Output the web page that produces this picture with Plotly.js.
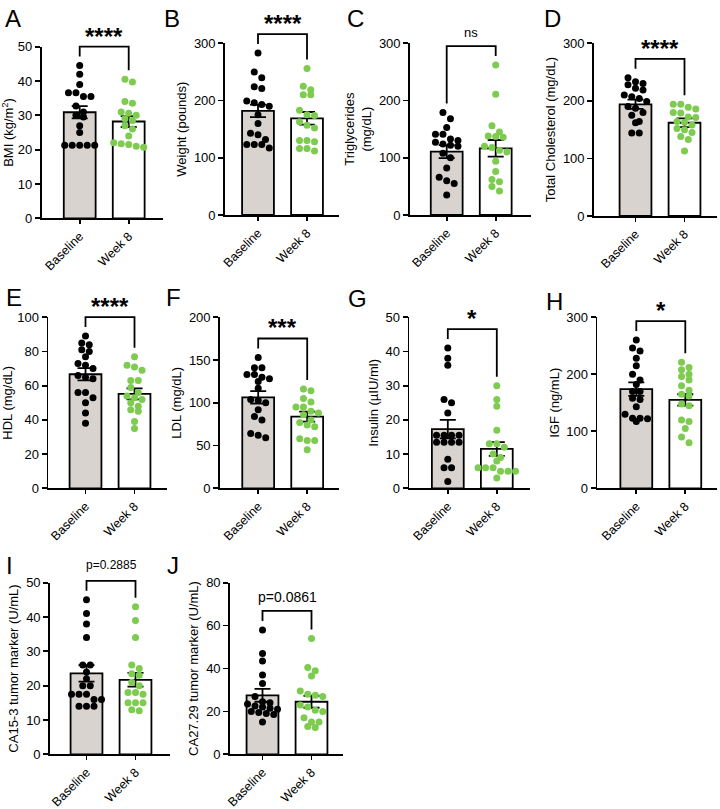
<!DOCTYPE html>
<html><head><meta charset="utf-8">
<script src="https://cdn.plot.ly/plotly-3.0.1.min.js"></script>
<style>html,body{margin:0;padding:0;background:#fff}#chart{width:720px;height:809px}</style>
</head><body><div id="chart"></div>
<script>
// ---------------- DATA ----------------
const categories = ['Baseline', 'Week 8'];
const panelLetters = ['A','B','C','D','E','F','G','H','I','J'];
const yTitles = ['BMI (kg/m<sup>2</sup>)', 'Weight (pounds)', 'Triglycerides<br>(mg/dL)', 'Total Cholesterol (mg/dL)',
  'HDL (mg/dL)', 'LDL (mg/dL)', 'Insulin (µIU/ml)', 'IGF (ng/mL)',
  'CA15-3 tumor marker (U/mL)', 'CA27.29 tumor marker (U/mL)'];
const sigLabels = ['****','****','ns','****','****','***','*','*','p=0.2885','p=0.0861'];
const yMaxima = [50, 300, 300, 300, 100, 200, 50, 300, 50, 80];
const yTickSteps = [10, 100, 100, 100, 20, 50, 10, 100, 10, 20];

const baselineMeans = [30.9, 182, 110.7, 194, 66.7, 106.4, 17.3, 174, 23.6, 27.5];
const baselineSems  = [1.8, 11, 11.5, 8, 3.6, 7.2, 2.7, 11.7, 2.4, 3.0];
const week8Means    = [28.2, 169, 116.5, 162, 55.2, 83.8, 11.5, 155, 21.7, 24.5];
const week8Sems     = [1.6, 11, 14.5, 7.5, 3.2, 5.8, 2.0, 10, 2.0, 2.8];

const bmiBaseline = [44.5, 42.0, 39.0, 36.6, 36.6, 35.5, 35.5, 32.7, 31.0, 30.0, 29.5, 27.0, 25.0, 21.3, 21.3, 21.3, 21.3, 21.3];
const bmiWeek8 = [40.5, 39.7, 34.0, 33.5, 31.0, 30.6, 30.0, 29.0, 28.5, 27.0, 26.0, 24.0, 22.0, 21.7, 21.5, 21.0, 20.7];
const weightBaseline = [283, 250, 240, 224, 221, 199, 196, 193, 190, 175, 160, 143, 140, 132, 123, 123, 123, 117];
const weightWeek8 = [256, 225, 219, 210, 210, 183, 175, 174, 163, 157, 152, 130, 130, 128, 116, 116, 112];
const trigBaseline = [179, 168, 153, 141, 141, 133, 130, 127, 124, 122, 120, 108, 100, 82, 66, 60, 55, 35];
const trigWeek8 = [262, 211, 156, 145, 138, 137, 136, 120, 118, 113, 110, 94, 76, 62, 58, 50, 42];
const cholBaseline = [240, 233, 230, 228, 222, 219, 210, 207, 204, 199, 190, 187, 180, 175, 164, 162, 144, 144];
const cholWeek8 = [194, 194, 189, 186, 180, 179, 172, 171, 164, 163, 158, 152, 150, 145, 138, 133, 113];
const hdlBaseline = [89, 84, 85, 81, 80, 77, 73, 72, 70, 66, 65, 64, 56, 56, 53, 50, 44, 38];
const hdlWeek8 = [77, 72, 71, 69, 63, 63, 59, 56, 54, 53, 52, 50, 48, 46, 45, 39, 35];
const ldlBaseline = [153, 141, 141, 128, 125, 133, 133, 130, 117, 104, 103, 100, 92, 84, 80, 64, 62, 59];
const ldlWeek8 = [116, 114, 105, 101, 95, 95, 90, 88, 86, 80, 77, 74, 72, 58, 56, 56, 45];
const insulinBaseline = [41, 38, 36, 26, 25, 22, 15.5, 15.5, 15.5, 15.5, 13.5, 13.5, 13.5, 13.5, 8.5, 6, 6, 2];
const insulinWeek8 = [30, 26, 24, 17, 13, 13, 12, 10, 9, 8, 6, 6, 6, 5, 5, 5, 3];
const igfBaseline = [260, 246, 241, 228, 215, 200, 190, 182, 170, 170, 158, 156, 143, 130, 123, 123, 122, 117];
const igfWeek8 = [221, 212, 208, 200, 196, 190, 180, 172, 165, 162, 148, 145, 120, 117, 105, 90, 80];
const ca153Baseline = [45, 41, 38, 34, 26, 26, 24, 22, 20, 20, 17.5, 17.5, 17.5, 16, 16, 14, 14, 14];
const ca153Week8 = [43, 39, 34, 26, 25, 23.5, 23, 21, 20, 18, 18, 17.5, 15, 15, 15, 13, 12.7];
const ca2729Baseline = [58, 47, 43.5, 37, 33, 27, 24.5, 24, 23.5, 22.5, 22, 21.5, 21, 20, 19.5, 19, 18.5, 15];
const ca2729Week8 = [54, 40.5, 39, 36.5, 29.5, 28, 27.5, 27, 23, 22, 20.5, 20, 17, 15, 15, 13, 12.5];

const baselineSeries = [bmiBaseline, weightBaseline, trigBaseline, cholBaseline, hdlBaseline, ldlBaseline, insulinBaseline, igfBaseline, ca153Baseline, ca2729Baseline];
const week8Series = [bmiWeek8, weightWeek8, trigWeek8, cholWeek8, hdlWeek8, ldlWeek8, insulinWeek8, igfWeek8, ca153Week8, ca2729Week8];

// ---------------- LAYOUT GEOMETRY (page pixels) ----------------
const W = 720, H = 809, CAT_PX = 49;
const geom = [
  {ax:41.7, xe:163,   y0:218.3, yt:46.7,  c0:79.7,  lx:4,   ly:8},
  {ax:225,  xe:339,   y0:215,   yt:43.3,  c0:258,   lx:163, ly:8},
  {ax:410,  xe:530.7, y0:215,   yt:43.3,  c0:446.7, lx:346, ly:8},
  {ax:594,  xe:716.7, y0:216,   yt:43.3,  c0:635.5, lx:543, ly:9},
  {ax:48.3, xe:166.7, y0:488.3, yt:317.3, c0:85.5,  lx:5,   ly:287},
  {ax:220,  xe:339.3, y0:488.3, yt:317.3, c0:258.2, lx:165, ly:287},
  {ax:409.3,xe:530,   y0:488.3, yt:317.3, c0:447.8, lx:347, ly:288},
  {ax:597.3,xe:716.7, y0:488.3, yt:317.3, c0:636.3, lx:545, ly:291},
  {ax:50,   xe:170,   y0:754.3, yt:582.7, c0:86.5,  lx:5,   ly:555},
  {ax:230,  xe:343.3, y0:754.3, yt:582.7, c0:262.5, lx:166, ly:555}
];
const FONT = '"Liberation Sans", Arial, Helvetica, sans-serif';
const BAR_GREY = '#d9d3d0';
const GREEN = '#7dcb4f';
const LW = 1.8;
const DOT = 7, DOT_SPACING = 7.5;

// beeswarm: rows of nearby values, centred
function swarm(values, pxPerUnit) {
  const idx = values.map((v, i) => i).sort((a, b) => values[b] - values[a]);
  const offs = new Array(values.length).fill(0);
  let row = [], start = null;
  const flush = () => { const k = row.length; row.forEach((id, j) => { offs[id] = (j - (k - 1) / 2) * DOT_SPACING; }); };
  idx.forEach(id => {
    const p = values[id] * pxPerUnit;
    if (start === null || start - p < DOT * 0.95) { if (start === null) start = p; row.push(id); }
    else { flush(); row = [id]; start = p; }
  });
  flush();
  return offs;
}

const data = [];
const layout = {
  width: W, height: H, margin: {l:0, r:0, t:0, b:0}, showlegend: false,
  paper_bgcolor: '#fff', plot_bgcolor: 'rgba(0,0,0,0)',
  font: {family: FONT, color: '#000', size: 13},
  annotations: [], shapes: []
};

baselineSeries.forEach((base, i) => {
  const week = week8Series[i];
  const g = geom[i];
  const s = i === 0 ? '' : String(i + 1);
  const pxPerY = (g.y0 - g.yt) / yMaxima[i];
  layout['xaxis' + s] = {
    domain: [g.ax / W, g.xe / W], range: [(g.ax - g.c0) / CAT_PX, (g.xe - g.c0) / CAT_PX],
    anchor: 'y' + s, tickmode: 'array', tickvals: [0, 1], ticktext: categories, tickangle: -45,
    showline: true, linecolor: '#000', linewidth: LW, ticks: 'outside', ticklen: 4, tickwidth: LW, tickcolor: '#000',
    showgrid: false, zeroline: false, fixedrange: true, tickfont: {size: 12.5, family: FONT, color: '#000'}
  };
  layout['yaxis' + s] = {
    domain: [1 - g.y0 / H, 1 - g.yt / H], range: [0, yMaxima[i]], tick0: 0, dtick: yTickSteps[i],
    anchor: 'x' + s, showline: true, linecolor: '#000', linewidth: LW, ticks: 'outside', ticklen: 5, tickwidth: LW, tickcolor: '#000',
    showgrid: false, zeroline: false, fixedrange: true, tickfont: {size: 13, family: FONT, color: '#000'},
    title: {text: yTitles[i], font: {size: 13, family: FONT, color: '#000'}, standoff: 4}
  };
  data.push({
    type: 'bar', x: [0, 1], y: [baselineMeans[i], week8Means[i]], width: 0.65,
    xaxis: 'x' + s, yaxis: 'y' + s,
    marker: {color: [BAR_GREY, '#ffffff'], line: {color: '#000', width: LW}},
    error_y: {type: 'data', array: [baselineSems[i], week8Sems[i]], visible: true, color: '#000', thickness: LW, width: 8},
    hoverinfo: 'skip'
  });
  const ob = swarm(base, pxPerY), ow = swarm(week, pxPerY);
  data.push({type: 'scatter', mode: 'markers', x: ob.map(o => o / CAT_PX), y: base, xaxis: 'x' + s, yaxis: 'y' + s,
    marker: {color: '#000', size: DOT}, cliponaxis: false, hoverinfo: 'skip'});
  data.push({type: 'scatter', mode: 'markers', x: ow.map(o => 1 + o / CAT_PX), y: week, xaxis: 'x' + s, yaxis: 'y' + s,
    marker: {color: GREEN, size: DOT}, cliponaxis: false, hoverinfo: 'skip'});

  // significance bracket
  const toPy = v => g.y0 - v * pxPerY;
  const pyB = toPy(Math.max(...base)), pyW = toPy(Math.max(...week));
  const top = Math.min(pyB, pyW) - 19;
  const xL = g.c0 / W, xR = (g.c0 + CAT_PX) / W;
  const Y = p => 1 - p / H;
  layout.shapes.push({type: 'path', xref: 'paper', yref: 'paper',
    path: `M ${xL} ${Y(pyB - 9)} L ${xL} ${Y(top)} L ${xR} ${Y(top)} L ${xR} ${Y(pyW - 9)}`,
    line: {color: '#000', width: LW}, fillcolor: 'rgba(0,0,0,0)'});
  const lbl = sigLabels[i];
  const isStar = lbl.indexOf('*') === 0;
  let fs = 13, bottom = top - 6;
  if (isStar) { fs = 24; bottom = top + 5; }
  else if (lbl === 'ns') { fs = 13; bottom = top - 4; }
  else if (i === 8) { fs = 12; bottom = top - 7; }
  else { fs = 14; bottom = top - 4; }
  layout.annotations.push({xref: 'paper', yref: 'paper', x: (xL + xR) / 2, y: Y(bottom), xanchor: 'center', yanchor: 'bottom',
    text: lbl, showarrow: false, font: {size: fs, family: FONT, color: '#000', weight: isStar ? 'bold' : 'normal'}});
  // panel letter
  layout.annotations.push({xref: 'paper', yref: 'paper', x: (g.lx - 1) / W, y: Y(g.ly - 5.5), xanchor: 'left', yanchor: 'top',
    text: panelLetters[i], showarrow: false, font: {size: 24, family: FONT, color: '#000'}});
});

Plotly.newPlot('chart', data, layout, {staticPlot: true, displayModeBar: false});
</script></body></html>
